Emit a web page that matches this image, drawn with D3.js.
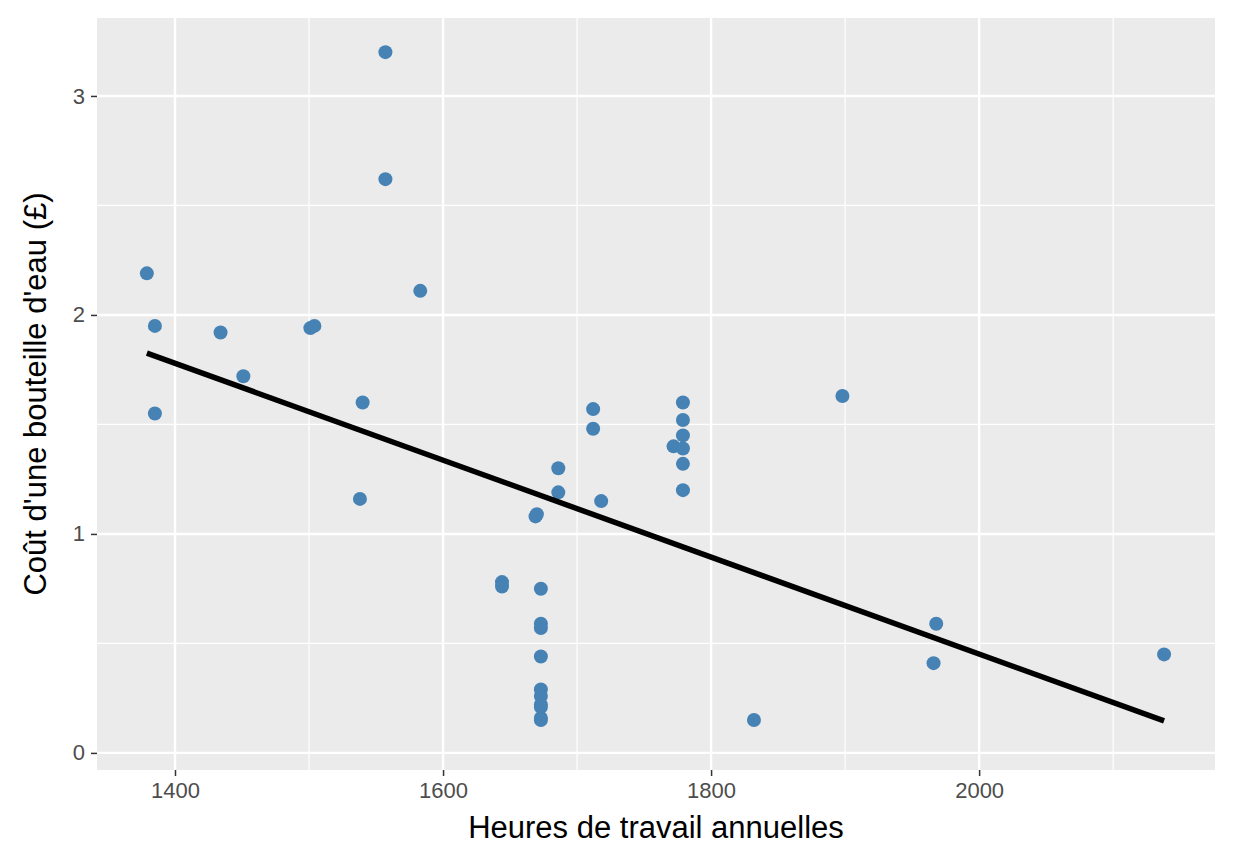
<!DOCTYPE html>
<html><head><meta charset="utf-8">
<script src="https://cdn.jsdelivr.net/npm/d3@7"></script>
<style>body{margin:0;background:#fff}</style></head>
<body><svg id="c" width="1234" height="864"></svg>
<script>
const hours = [1379,1385,1385,1434,1451,1501,1504,1540,1538,1557,1557,1583,1644,1644,1669,1670,1673,1673,1673,1673,1673,1673,1673,1673,1673,1673,1686,1686,1712,1712,1718,1772,1779,1779,1779,1779,1779,1779,1832,1898,1966,1968,2138];
const cost  = [2.19,1.95,1.55,1.92,1.72,1.94,1.95,1.60,1.16,3.20,2.62,2.11,0.78,0.76,1.08,1.09,0.75,0.59,0.57,0.44,0.29,0.26,0.22,0.21,0.16,0.15,1.30,1.19,1.57,1.48,1.15,1.40,1.60,1.52,1.45,1.39,1.32,1.20,0.15,1.63,0.41,0.59,0.45];
const fitX = [1379, 2138];
const fitY = [1.826, 0.146];
const xTicks = [1400,1600,1800,2000];
const yTicks = [0,1,2,3];
const xMinor = [1500,1700,1900,2100];
const yMinor = [0.5,1.5,2.5];

const svg = d3.select("#c");
const L=97,R=1215,T=18,B=770;
const x = d3.scaleLinear().domain([1341.8,2176]).range([L,R]);
const y = d3.scaleLinear().domain([-0.078,3.356]).range([B,T]);
svg.append("rect").attr("x",L).attr("y",T).attr("width",R-L).attr("height",B-T).attr("fill","#ebebeb");
const g=svg.append("g");
xMinor.forEach(v=>g.append("line").attr("x1",x(v)).attr("x2",x(v)).attr("y1",T).attr("y2",B).attr("stroke","#fff").attr("stroke-width",1.2));
yMinor.forEach(v=>g.append("line").attr("y1",y(v)).attr("y2",y(v)).attr("x1",L).attr("x2",R).attr("stroke","#fff").attr("stroke-width",1.2));
xTicks.forEach(v=>g.append("line").attr("x1",x(v)).attr("x2",x(v)).attr("y1",T).attr("y2",B).attr("stroke","#fff").attr("stroke-width",2.4));
yTicks.forEach(v=>g.append("line").attr("y1",y(v)).attr("y2",y(v)).attr("x1",L).attr("x2",R).attr("stroke","#fff").attr("stroke-width",2.4));
const xa=svg.append("g").attr("transform",`translate(0,${B})`).call(d3.axisBottom(x).tickValues(xTicks).tickSize(6).tickPadding(6).tickFormat(d3.format("d")));
const ya=svg.append("g").attr("transform",`translate(${L},0)`).call(d3.axisLeft(y).tickValues(yTicks).tickSize(6).tickPadding(6).tickFormat(d3.format("d")));
[xa,ya].forEach(a=>{a.select(".domain").remove();a.selectAll("line").attr("stroke","#333").attr("stroke-width",1.5);
 a.selectAll("text").attr("fill","#4d4d4d").style("font-family","Liberation Sans, Arial, sans-serif").style("font-size","22px");});
svg.selectAll("circle").data(hours).enter().append("circle")
 .attr("cx",d=>x(d)).attr("cy",(d,i)=>y(cost[i])).attr("r",7).attr("fill","#4682b4");
svg.append("line").attr("x1",x(fitX[0])).attr("y1",y(fitY[0])).attr("x2",x(fitX[1])).attr("y2",y(fitY[1])).attr("stroke","#000").attr("stroke-width",5.5);
svg.append("text").attr("x",(L+R)/2).attr("y",838).attr("text-anchor","middle").style("font-family","Liberation Sans, Arial, sans-serif").style("font-size","31px").text("Heures de travail annuelles");
svg.append("text").attr("transform",`translate(46,${(T+B)/2}) rotate(-90)`).attr("text-anchor","middle").style("font-family","Liberation Sans, Arial, sans-serif").style("font-size","31px").text("Coût d'une bouteille d'eau (£)");
</script></body></html>
